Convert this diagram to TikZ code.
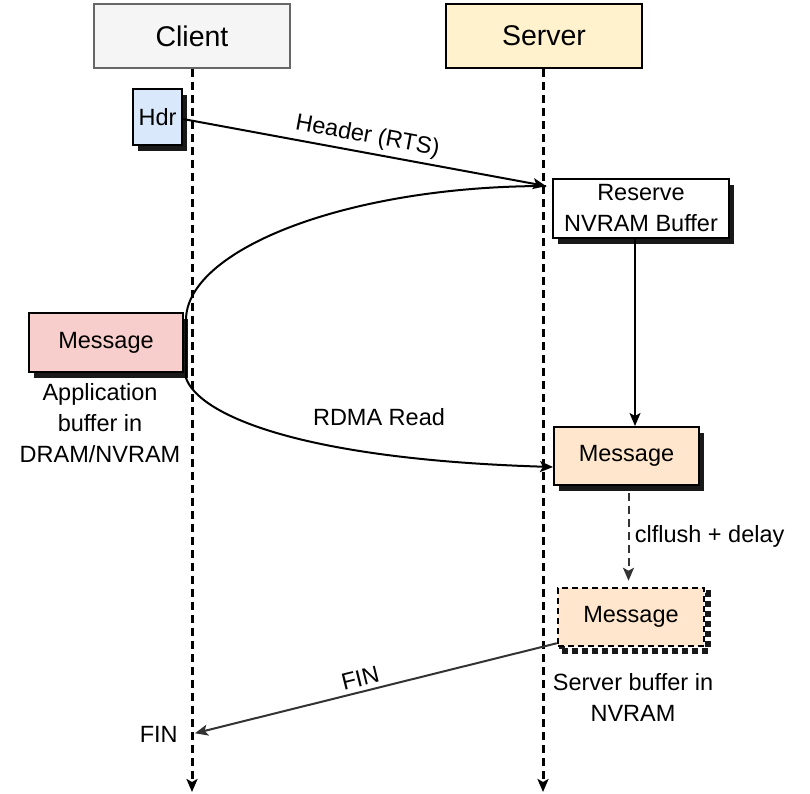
\documentclass[tikz,border=0pt]{standalone}
\usepackage{fontspec}
\setmainfont{Liberation Sans}
\usepackage{xcolor}
\definecolor{ClientGray}{HTML}{F5F5F5}
\definecolor{ClientLine}{HTML}{666666}
\definecolor{ServerYellow}{HTML}{FFF2CC}
\definecolor{HdrBlue}{HTML}{DAE8FC}
\definecolor{AppRed}{HTML}{F8CECC}
\definecolor{MsgPeach}{HTML}{FFE6CC}
\definecolor{ArrowGray}{HTML}{333333}
\usepackage{tikz}
\usetikzlibrary{positioning,shapes,arrows.meta,shadows}

\begin{document}
\begin{tikzpicture}[x=1pt, y=-1pt, line width=2pt,
    >={Stealth[length=13pt,width=11pt,inset=3pt]},
    font=\fontsize{23.5}{31}\selectfont,
    head/.style={
    draw,
    rectangle,
    minimum width=196pt,
    minimum height=64pt,
    font=\fontsize{28.5}{34}\selectfont},
    block/.style={
    draw,
    rectangle,
    inner sep=0pt,
    drop shadow={shadow xshift=5pt, shadow yshift=-6pt, fill=black, opacity=0.9}},
    dashblock/.style={
    draw,
    rectangle,
    inner sep=0pt,
    line width=2.5pt,
    dash pattern=on 6pt off 4pt,
    drop shadow={shadow xshift=4pt, shadow yshift=-5pt, fill=none, draw=black,
                 line width=6pt, dash pattern=on 6pt off 4pt, opacity=0.9}},
    lifeline/.style={->, line width=3pt, dash pattern=on 8pt off 5pt},
    note/.style={align=center, inner sep=0pt}]
    \useasboundingbox (0,0) rectangle (810,793);

    \node [head, fill=ClientGray, draw=ClientLine, line width=1.5pt] (Client) at (192,36) {Client};
    \node [head, fill=ServerYellow] (Server) at (544,36) {Server};

    \coordinate (ClientEnd) at (Client.south |- 0,792);
    \coordinate (ServerEnd) at (543,792);
    \draw[lifeline] (Client.south) -- (ClientEnd);
    \draw[lifeline] (ServerEnd |- Server.south) -- (ServerEnd);

    \node [block, fill=HdrBlue, minimum width=49pt, minimum height=56pt] (Hdr) at (157.5,117) {Hdr};
    \node [block, fill=white, minimum width=176pt, minimum height=59pt, align=center] (Reserve) at (641,208.5) {Reserve\\NVRAM Buffer};

    \node [block, fill=AppRed, minimum width=154pt, minimum height=59pt] (AppMsg) at (106,342.5) {Message};
    \node [note, below=9pt of AppMsg, xshift=-6pt] (AppNote) {Application\\buffer in\\DRAM/NVRAM};

    \node [block, fill=MsgPeach, minimum width=145pt, minimum height=58pt] (SrvMsg) at (626.5,456) {Message};
    \node [dashblock, fill=MsgPeach, minimum width=146pt, minimum height=58pt] (NvMsg) at (631,617) {Message};
    \node [note, below=25pt of NvMsg, xshift=2pt] (NvNote) {Server buffer in\\NVRAM};

    % RTS from the client header
    \coordinate (Rts) at (546,186);
    \draw[->] ([shift={(0,2)}]Hdr.east) -- node[above=1pt, sloped] {Header (RTS)} (Rts);

    % RDMA read of the application buffer
    \draw[->] (Rts) .. controls +(-200,0) and +(0,-70) .. ([shift={(2,8)}]AppMsg.north east)
        -- ([shift={(2,5)}]AppMsg.south east)
        .. controls +(12,35) and +(-260,-8) .. ([shift={(0,11)}]SrvMsg.west);
    \node (RdmaLbl) at (379,417) {RDMA Read};

    \draw[->] ([xshift=-6pt]Reserve.south) -- ([xshift=-6pt]Reserve.south |- SrvMsg.north);

    \draw[->, color=ArrowGray, dash pattern=on 8pt off 5pt, shorten <=7pt, shorten >=6pt]
        ([xshift=2pt]SrvMsg.south) -- node[right=2pt, text=black] {clflush + delay}
        ([xshift=2pt]SrvMsg.south |- NvMsg.north);

    % FIN back to the client
    \coordinate (FinEnd) at (Client.south |- 0,734);
    \draw[->, color=ArrowGray, shorten >=3pt] ([shift={(0,-4)}]NvMsg.south west)
        -- node[above=1pt, sloped, pos=0.53, text=black] {FIN} (FinEnd);
    \node [left=10pt of FinEnd] (FinLbl) {FIN};
\end{tikzpicture}
\end{document}
